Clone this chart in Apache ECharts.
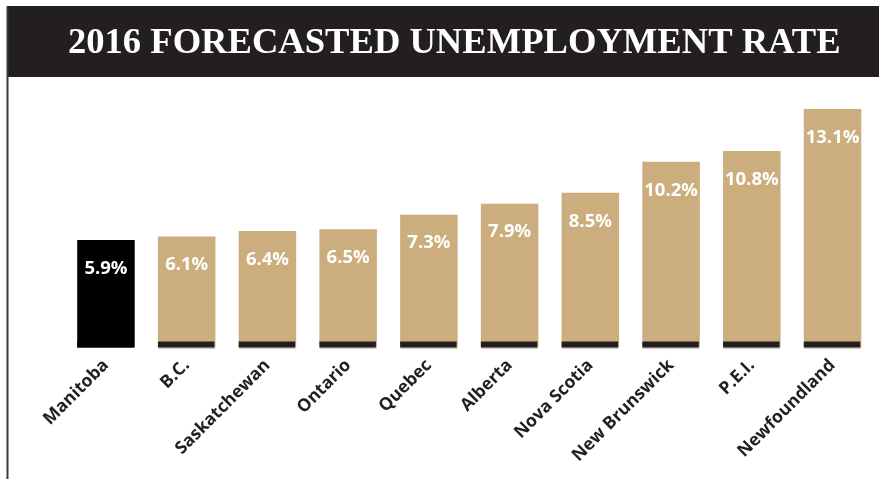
<!DOCTYPE html>
<html>
<head>
<meta charset="utf-8">
<script src="https://cdn.jsdelivr.net/npm/echarts@6/dist/echarts.min.js"></script>
<style>html,body{margin:0;padding:0;background:#fff;}#c{width:879px;height:479px;}</style>
</head>
<body>
<div id="c"></div>
<script>
const titleText = '2016 FORECASTED UNEMPLOYMENT RATE';
const categories = ['Manitoba', 'B.C.', 'Saskatchewan', 'Ontario', 'Quebec', 'Alberta', 'Nova Scotia', 'New Brunswick', 'P.E.I.', 'Newfoundland'];
const rates = [5.9, 6.1, 6.4, 6.5, 7.3, 7.9, 8.5, 10.2, 10.8, 13.1];
const highlighted = ['Manitoba'];

const TAN = '#ccad7d';
const DARK = '#231f20';
const BAR_W = 57.5;

const chart = echarts.init(document.getElementById('c'), null, {renderer: 'canvas'});
chart.setOption({
  backgroundColor: '#fff',
  animation: false,
  title: {
    text: titleText,
    left: 68,
    top: 25,
    padding: 0,
    z: 10,
    textStyle: {
      fontFamily: 'Liberation Serif',
      fontWeight: 'bold',
      fontSize: 36.6,
      color: '#ffffff'
    }
  },
  graphic: [
    {type: 'rect', z: 0, shape: {x: 8, y: 6, width: 871, height: 71}, style: {fill: DARK}},
    {type: 'line', z: 0, shape: {x1: 7.5, y1: 6, x2: 7.5, y2: 479}, style: {stroke: '#3c3a3a', lineWidth: 2}}
  ],
  grid: {left: 65.6, right: 6.1, top: 74.5, bottom: 131.5, containLabel: false},
  xAxis: {
    type: 'category',
    data: categories,
    axisLine: {show: false},
    axisTick: {show: false},
    axisLabel: {
      interval: 0,
      rotate: 45,
      margin: 15,
      color: DARK,
      fontFamily: 'Open Sans',
      fontWeight: 'bold',
      fontSize: 17.5
    }
  },
  yAxis: {
    type: 'value',
    min: 0,
    max: 15,
    show: false,
    splitLine: {show: false}
  },
  series: [
    {
      type: 'bar',
      barWidth: BAR_W,
      data: rates.map((v, i) => ({
        value: v,
        itemStyle: {color: highlighted.includes(categories[i]) ? '#000000' : TAN}
      })),
      label: {
        show: true,
        position: 'insideTop',
        distance: 19,
        formatter: p => p.value.toFixed(1) + '%',
        color: '#ffffff',
        fontFamily: 'Open Sans',
        fontWeight: 'bold',
        fontSize: 18.5
      }
    },
    {
      type: 'custom',
      z: 5,
      data: rates.map((v, i) => [i, v]),
      encode: {x: 0, y: 1},
      renderItem: function (params, api) {
        const idx = api.value(0);
        const base = api.coord([idx, 0]);
        const isHi = highlighted.includes(categories[idx]);
        return {
          type: 'group',
          children: [
            {type: 'rect', shape: {x: base[0] - BAR_W / 2 + 0.5, y: base[1] + 0.5, width: BAR_W - 1, height: 1}, style: {fill: isHi ? 'rgba(0,0,0,0)' : '#c9c9c9'}},
            {type: 'rect', shape: {x: base[0] - BAR_W / 2, y: base[1] - 6, width: BAR_W - 1, height: 6}, style: {fill: isHi ? '#000000' : DARK}}
          ]
        };
      }
    }
  ]
});
</script>
</body>
</html>
